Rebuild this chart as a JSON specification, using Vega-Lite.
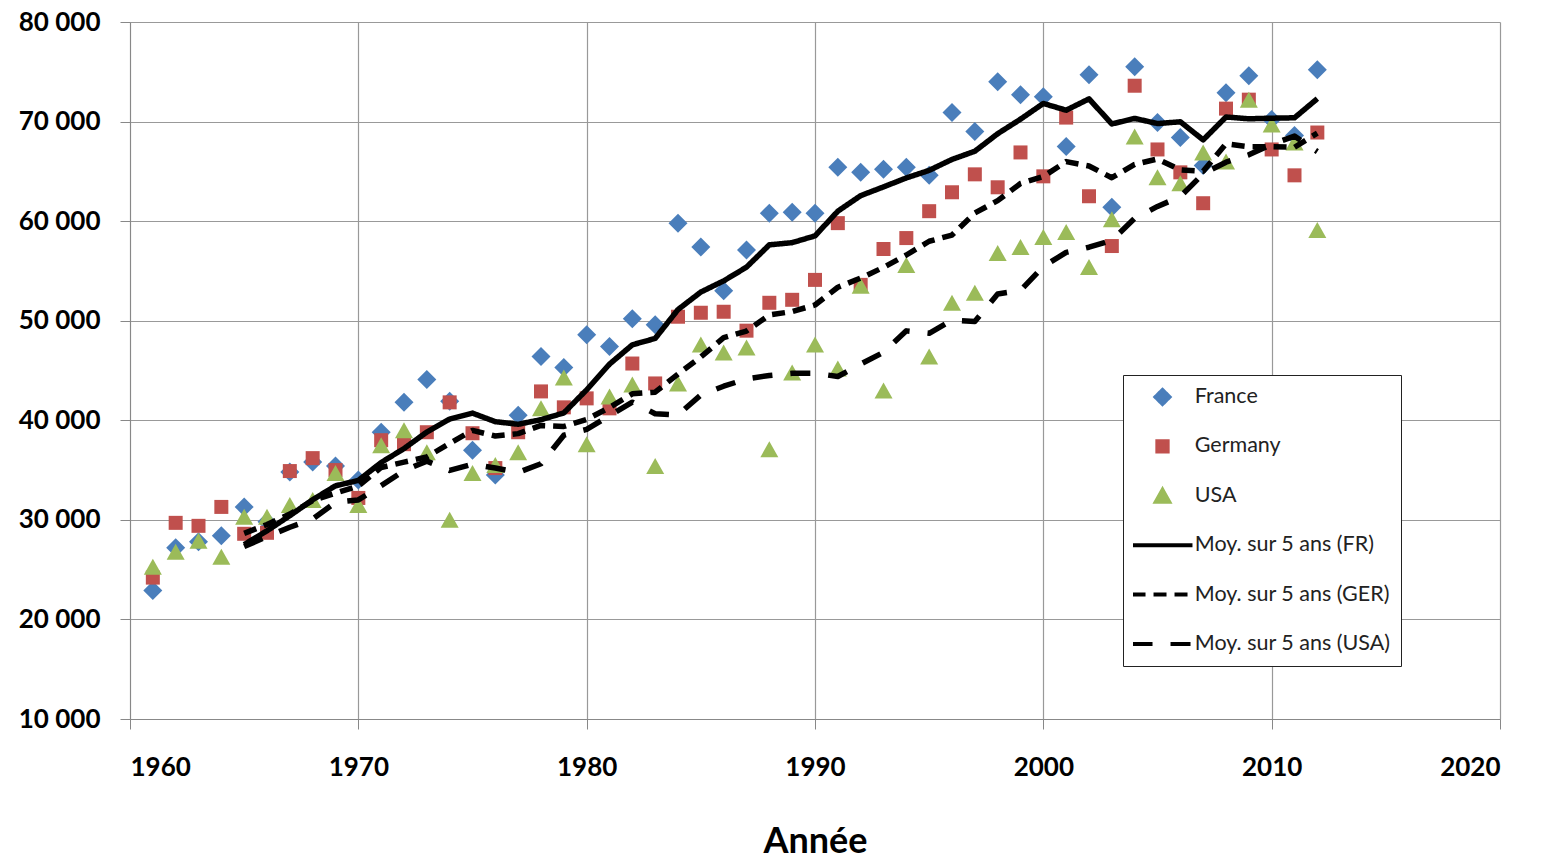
{
  "$schema": "https://vega.github.io/schema/vega-lite/v6.json",
  "width": 1370,
  "height": 697,
  "autosize": "none",
  "padding": {"left": 130, "top": 22, "right": 44, "bottom": 142},
  "background": "white",
  "config": {"view": {"stroke": null}, "font": "Lato"},
  "datasets": {
    "points": [
      {"year":1961,"series":"France","value":22900},{"year":1962,"series":"France","value":27200},{"year":1963,"series":"France","value":27800},{"year":1964,"series":"France","value":28400},{"year":1965,"series":"France","value":31300},{"year":1966,"series":"France","value":29800},{"year":1967,"series":"France","value":34800},{"year":1968,"series":"France","value":35800},{"year":1969,"series":"France","value":35400},{"year":1970,"series":"France","value":34000},
      {"year":1971,"series":"France","value":38800},{"year":1972,"series":"France","value":41800},{"year":1973,"series":"France","value":44100},{"year":1974,"series":"France","value":41900},{"year":1975,"series":"France","value":37000},{"year":1976,"series":"France","value":34500},{"year":1977,"series":"France","value":40500},{"year":1978,"series":"France","value":46400},{"year":1979,"series":"France","value":45300},{"year":1980,"series":"France","value":48600},
      {"year":1981,"series":"France","value":47400},{"year":1982,"series":"France","value":50200},{"year":1983,"series":"France","value":49600},{"year":1984,"series":"France","value":59800},{"year":1985,"series":"France","value":57400},{"year":1986,"series":"France","value":53000},{"year":1987,"series":"France","value":57100},{"year":1988,"series":"France","value":60800},{"year":1989,"series":"France","value":60900},{"year":1990,"series":"France","value":60800},
      {"year":1991,"series":"France","value":65400},{"year":1992,"series":"France","value":64900},{"year":1993,"series":"France","value":65200},{"year":1994,"series":"France","value":65400},{"year":1995,"series":"France","value":64600},{"year":1996,"series":"France","value":70900},{"year":1997,"series":"France","value":69000},{"year":1998,"series":"France","value":74000},{"year":1999,"series":"France","value":72700},{"year":2000,"series":"France","value":72500},
      {"year":2001,"series":"France","value":67500},{"year":2002,"series":"France","value":74700},{"year":2003,"series":"France","value":61400},{"year":2004,"series":"France","value":75500},{"year":2005,"series":"France","value":69900},{"year":2006,"series":"France","value":68400},{"year":2007,"series":"France","value":65600},{"year":2008,"series":"France","value":72900},{"year":2009,"series":"France","value":74600},{"year":2010,"series":"France","value":70200},{"year":2011,"series":"France","value":68600},{"year":2012,"series":"France","value":75200},

      {"year":1961,"series":"Germany","value":24200},{"year":1962,"series":"Germany","value":29700},{"year":1963,"series":"Germany","value":29400},{"year":1964,"series":"Germany","value":31300},{"year":1965,"series":"Germany","value":28600},{"year":1966,"series":"Germany","value":28700},{"year":1967,"series":"Germany","value":34900},{"year":1968,"series":"Germany","value":36200},{"year":1969,"series":"Germany","value":35000},{"year":1970,"series":"Germany","value":32200},
      {"year":1971,"series":"Germany","value":38000},{"year":1972,"series":"Germany","value":37600},{"year":1973,"series":"Germany","value":38800},{"year":1974,"series":"Germany","value":41800},{"year":1975,"series":"Germany","value":38700},{"year":1976,"series":"Germany","value":35200},{"year":1977,"series":"Germany","value":38800},{"year":1978,"series":"Germany","value":42900},{"year":1979,"series":"Germany","value":41300},{"year":1980,"series":"Germany","value":42200},
      {"year":1981,"series":"Germany","value":41200},{"year":1982,"series":"Germany","value":45700},{"year":1983,"series":"Germany","value":43700},{"year":1984,"series":"Germany","value":50400},{"year":1985,"series":"Germany","value":50800},{"year":1986,"series":"Germany","value":50900},{"year":1987,"series":"Germany","value":49000},{"year":1988,"series":"Germany","value":51800},{"year":1989,"series":"Germany","value":52100},{"year":1990,"series":"Germany","value":54100},
      {"year":1991,"series":"Germany","value":59800},{"year":1992,"series":"Germany","value":53600},{"year":1993,"series":"Germany","value":57200},{"year":1994,"series":"Germany","value":58300},{"year":1995,"series":"Germany","value":61000},{"year":1996,"series":"Germany","value":62900},{"year":1997,"series":"Germany","value":64700},{"year":1998,"series":"Germany","value":63400},{"year":1999,"series":"Germany","value":66900},{"year":2000,"series":"Germany","value":64500},
      {"year":2001,"series":"Germany","value":70400},{"year":2002,"series":"Germany","value":62500},{"year":2003,"series":"Germany","value":57500},{"year":2004,"series":"Germany","value":73600},{"year":2005,"series":"Germany","value":67200},{"year":2006,"series":"Germany","value":64900},{"year":2007,"series":"Germany","value":61800},{"year":2008,"series":"Germany","value":71300},{"year":2009,"series":"Germany","value":72200},{"year":2010,"series":"Germany","value":67200},{"year":2011,"series":"Germany","value":64600},{"year":2012,"series":"Germany","value":68900},

      {"year":1961,"series":"USA","value":25300},{"year":1962,"series":"USA","value":26800},{"year":1963,"series":"USA","value":27900},{"year":1964,"series":"USA","value":26300},{"year":1965,"series":"USA","value":30300},{"year":1966,"series":"USA","value":30300},{"year":1967,"series":"USA","value":31500},{"year":1968,"series":"USA","value":32000},{"year":1969,"series":"USA","value":34700},{"year":1970,"series":"USA","value":31500},
      {"year":1971,"series":"USA","value":37500},{"year":1972,"series":"USA","value":39000},{"year":1973,"series":"USA","value":36800},{"year":1974,"series":"USA","value":30000},{"year":1975,"series":"USA","value":34700},{"year":1976,"series":"USA","value":35500},{"year":1977,"series":"USA","value":36800},{"year":1978,"series":"USA","value":41200},{"year":1979,"series":"USA","value":44300},{"year":1980,"series":"USA","value":37600},
      {"year":1981,"series":"USA","value":42400},{"year":1982,"series":"USA","value":43600},{"year":1983,"series":"USA","value":35400},{"year":1984,"series":"USA","value":43700},{"year":1985,"series":"USA","value":47600},{"year":1986,"series":"USA","value":46800},{"year":1987,"series":"USA","value":47300},{"year":1988,"series":"USA","value":37100},{"year":1989,"series":"USA","value":44800},{"year":1990,"series":"USA","value":47600},
      {"year":1991,"series":"USA","value":45200},{"year":1992,"series":"USA","value":53500},{"year":1993,"series":"USA","value":43000},{"year":1994,"series":"USA","value":55600},{"year":1995,"series":"USA","value":46400},{"year":1996,"series":"USA","value":51800},{"year":1997,"series":"USA","value":52800},{"year":1998,"series":"USA","value":56800},{"year":1999,"series":"USA","value":57400},{"year":2000,"series":"USA","value":58400},
      {"year":2001,"series":"USA","value":58900},{"year":2002,"series":"USA","value":55400},{"year":2003,"series":"USA","value":60200},{"year":2004,"series":"USA","value":68500},{"year":2005,"series":"USA","value":64400},{"year":2006,"series":"USA","value":63800},{"year":2007,"series":"USA","value":66900},{"year":2008,"series":"USA","value":66000},{"year":2009,"series":"USA","value":72200},{"year":2010,"series":"USA","value":69700},{"year":2011,"series":"USA","value":67900},{"year":2012,"series":"USA","value":59100}
    ],
    "avg": [
      {"year":1965,"series":"Moy. sur 5 ans (FR)","value":27520},{"year":1966,"series":"Moy. sur 5 ans (FR)","value":28900},{"year":1967,"series":"Moy. sur 5 ans (FR)","value":30420},{"year":1968,"series":"Moy. sur 5 ans (FR)","value":32020},{"year":1969,"series":"Moy. sur 5 ans (FR)","value":33420},{"year":1970,"series":"Moy. sur 5 ans (FR)","value":33960},{"year":1971,"series":"Moy. sur 5 ans (FR)","value":35760},{"year":1972,"series":"Moy. sur 5 ans (FR)","value":37160},{"year":1973,"series":"Moy. sur 5 ans (FR)","value":38820},{"year":1974,"series":"Moy. sur 5 ans (FR)","value":40120},
      {"year":1975,"series":"Moy. sur 5 ans (FR)","value":40720},{"year":1976,"series":"Moy. sur 5 ans (FR)","value":39860},{"year":1977,"series":"Moy. sur 5 ans (FR)","value":39600},{"year":1978,"series":"Moy. sur 5 ans (FR)","value":40060},{"year":1979,"series":"Moy. sur 5 ans (FR)","value":40740},{"year":1980,"series":"Moy. sur 5 ans (FR)","value":43060},{"year":1981,"series":"Moy. sur 5 ans (FR)","value":45640},{"year":1982,"series":"Moy. sur 5 ans (FR)","value":47580},{"year":1983,"series":"Moy. sur 5 ans (FR)","value":48220},{"year":1984,"series":"Moy. sur 5 ans (FR)","value":51120},
      {"year":1985,"series":"Moy. sur 5 ans (FR)","value":52880},{"year":1986,"series":"Moy. sur 5 ans (FR)","value":54000},{"year":1987,"series":"Moy. sur 5 ans (FR)","value":55380},{"year":1988,"series":"Moy. sur 5 ans (FR)","value":57620},{"year":1989,"series":"Moy. sur 5 ans (FR)","value":57840},{"year":1990,"series":"Moy. sur 5 ans (FR)","value":58520},{"year":1991,"series":"Moy. sur 5 ans (FR)","value":61000},{"year":1992,"series":"Moy. sur 5 ans (FR)","value":62560},{"year":1993,"series":"Moy. sur 5 ans (FR)","value":63440},{"year":1994,"series":"Moy. sur 5 ans (FR)","value":64340},
      {"year":1995,"series":"Moy. sur 5 ans (FR)","value":65100},{"year":1996,"series":"Moy. sur 5 ans (FR)","value":66200},{"year":1997,"series":"Moy. sur 5 ans (FR)","value":67020},{"year":1998,"series":"Moy. sur 5 ans (FR)","value":68780},{"year":1999,"series":"Moy. sur 5 ans (FR)","value":70240},{"year":2000,"series":"Moy. sur 5 ans (FR)","value":71820},{"year":2001,"series":"Moy. sur 5 ans (FR)","value":71140},{"year":2002,"series":"Moy. sur 5 ans (FR)","value":72280},{"year":2003,"series":"Moy. sur 5 ans (FR)","value":69760},{"year":2004,"series":"Moy. sur 5 ans (FR)","value":70320},
      {"year":2005,"series":"Moy. sur 5 ans (FR)","value":69800},{"year":2006,"series":"Moy. sur 5 ans (FR)","value":69980},{"year":2007,"series":"Moy. sur 5 ans (FR)","value":68160},{"year":2008,"series":"Moy. sur 5 ans (FR)","value":70460},{"year":2009,"series":"Moy. sur 5 ans (FR)","value":70280},{"year":2010,"series":"Moy. sur 5 ans (FR)","value":70340},{"year":2011,"series":"Moy. sur 5 ans (FR)","value":70380},{"year":2012,"series":"Moy. sur 5 ans (FR)","value":72300},

      {"year":1965,"series":"Moy. sur 5 ans (GER)","value":28640},{"year":1966,"series":"Moy. sur 5 ans (GER)","value":29540},{"year":1967,"series":"Moy. sur 5 ans (GER)","value":30580},{"year":1968,"series":"Moy. sur 5 ans (GER)","value":31940},{"year":1969,"series":"Moy. sur 5 ans (GER)","value":32680},{"year":1970,"series":"Moy. sur 5 ans (GER)","value":33400},{"year":1971,"series":"Moy. sur 5 ans (GER)","value":35260},{"year":1972,"series":"Moy. sur 5 ans (GER)","value":35800},{"year":1973,"series":"Moy. sur 5 ans (GER)","value":36320},{"year":1974,"series":"Moy. sur 5 ans (GER)","value":37680},
      {"year":1975,"series":"Moy. sur 5 ans (GER)","value":38980},{"year":1976,"series":"Moy. sur 5 ans (GER)","value":38420},{"year":1977,"series":"Moy. sur 5 ans (GER)","value":38660},{"year":1978,"series":"Moy. sur 5 ans (GER)","value":39480},{"year":1979,"series":"Moy. sur 5 ans (GER)","value":39380},{"year":1980,"series":"Moy. sur 5 ans (GER)","value":40080},{"year":1981,"series":"Moy. sur 5 ans (GER)","value":41280},{"year":1982,"series":"Moy. sur 5 ans (GER)","value":42660},{"year":1983,"series":"Moy. sur 5 ans (GER)","value":42820},{"year":1984,"series":"Moy. sur 5 ans (GER)","value":44640},
      {"year":1985,"series":"Moy. sur 5 ans (GER)","value":46360},{"year":1986,"series":"Moy. sur 5 ans (GER)","value":48300},{"year":1987,"series":"Moy. sur 5 ans (GER)","value":48960},{"year":1988,"series":"Moy. sur 5 ans (GER)","value":50580},{"year":1989,"series":"Moy. sur 5 ans (GER)","value":50920},{"year":1990,"series":"Moy. sur 5 ans (GER)","value":51580},{"year":1991,"series":"Moy. sur 5 ans (GER)","value":53360},{"year":1992,"series":"Moy. sur 5 ans (GER)","value":54280},{"year":1993,"series":"Moy. sur 5 ans (GER)","value":55360},{"year":1994,"series":"Moy. sur 5 ans (GER)","value":56600},
      {"year":1995,"series":"Moy. sur 5 ans (GER)","value":57980},{"year":1996,"series":"Moy. sur 5 ans (GER)","value":58600},{"year":1997,"series":"Moy. sur 5 ans (GER)","value":60820},{"year":1998,"series":"Moy. sur 5 ans (GER)","value":62060},{"year":1999,"series":"Moy. sur 5 ans (GER)","value":63780},{"year":2000,"series":"Moy. sur 5 ans (GER)","value":64480},{"year":2001,"series":"Moy. sur 5 ans (GER)","value":65980},{"year":2002,"series":"Moy. sur 5 ans (GER)","value":65540},{"year":2003,"series":"Moy. sur 5 ans (GER)","value":64360},{"year":2004,"series":"Moy. sur 5 ans (GER)","value":65700},
      {"year":2005,"series":"Moy. sur 5 ans (GER)","value":66240},{"year":2006,"series":"Moy. sur 5 ans (GER)","value":65140},{"year":2007,"series":"Moy. sur 5 ans (GER)","value":65000},{"year":2008,"series":"Moy. sur 5 ans (GER)","value":67760},{"year":2009,"series":"Moy. sur 5 ans (GER)","value":67480},{"year":2010,"series":"Moy. sur 5 ans (GER)","value":67480},{"year":2011,"series":"Moy. sur 5 ans (GER)","value":67420},{"year":2012,"series":"Moy. sur 5 ans (GER)","value":68840},

      {"year":1965,"series":"Moy. sur 5 ans (USA)","value":27320},{"year":1966,"series":"Moy. sur 5 ans (USA)","value":28320},{"year":1967,"series":"Moy. sur 5 ans (USA)","value":29260},{"year":1968,"series":"Moy. sur 5 ans (USA)","value":30080},{"year":1969,"series":"Moy. sur 5 ans (USA)","value":31760},{"year":1970,"series":"Moy. sur 5 ans (USA)","value":32000},{"year":1971,"series":"Moy. sur 5 ans (USA)","value":33440},{"year":1972,"series":"Moy. sur 5 ans (USA)","value":34940},{"year":1973,"series":"Moy. sur 5 ans (USA)","value":35900},{"year":1974,"series":"Moy. sur 5 ans (USA)","value":34960},
      {"year":1975,"series":"Moy. sur 5 ans (USA)","value":35600},{"year":1976,"series":"Moy. sur 5 ans (USA)","value":35200},{"year":1977,"series":"Moy. sur 5 ans (USA)","value":34760},{"year":1978,"series":"Moy. sur 5 ans (USA)","value":35640},{"year":1979,"series":"Moy. sur 5 ans (USA)","value":38500},{"year":1980,"series":"Moy. sur 5 ans (USA)","value":39080},{"year":1981,"series":"Moy. sur 5 ans (USA)","value":40460},{"year":1982,"series":"Moy. sur 5 ans (USA)","value":41820},{"year":1983,"series":"Moy. sur 5 ans (USA)","value":40660},{"year":1984,"series":"Moy. sur 5 ans (USA)","value":40540},
      {"year":1985,"series":"Moy. sur 5 ans (USA)","value":42540},{"year":1986,"series":"Moy. sur 5 ans (USA)","value":43420},{"year":1987,"series":"Moy. sur 5 ans (USA)","value":44160},{"year":1988,"series":"Moy. sur 5 ans (USA)","value":44500},{"year":1989,"series":"Moy. sur 5 ans (USA)","value":44720},{"year":1990,"series":"Moy. sur 5 ans (USA)","value":44720},{"year":1991,"series":"Moy. sur 5 ans (USA)","value":44400},{"year":1992,"series":"Moy. sur 5 ans (USA)","value":45640},{"year":1993,"series":"Moy. sur 5 ans (USA)","value":46820},{"year":1994,"series":"Moy. sur 5 ans (USA)","value":48980},
      {"year":1995,"series":"Moy. sur 5 ans (USA)","value":48740},{"year":1996,"series":"Moy. sur 5 ans (USA)","value":50060},{"year":1997,"series":"Moy. sur 5 ans (USA)","value":49920},{"year":1998,"series":"Moy. sur 5 ans (USA)","value":52680},{"year":1999,"series":"Moy. sur 5 ans (USA)","value":53040},{"year":2000,"series":"Moy. sur 5 ans (USA)","value":55440},{"year":2001,"series":"Moy. sur 5 ans (USA)","value":56860},{"year":2002,"series":"Moy. sur 5 ans (USA)","value":57380},{"year":2003,"series":"Moy. sur 5 ans (USA)","value":58060},{"year":2004,"series":"Moy. sur 5 ans (USA)","value":60280},
      {"year":2005,"series":"Moy. sur 5 ans (USA)","value":61480},{"year":2006,"series":"Moy. sur 5 ans (USA)","value":62460},{"year":2007,"series":"Moy. sur 5 ans (USA)","value":64760},{"year":2008,"series":"Moy. sur 5 ans (USA)","value":65920},{"year":2009,"series":"Moy. sur 5 ans (USA)","value":66660},{"year":2010,"series":"Moy. sur 5 ans (USA)","value":67720},{"year":2011,"series":"Moy. sur 5 ans (USA)","value":68540},{"year":2012,"series":"Moy. sur 5 ans (USA)","value":66980}
    ]
  },
  "layer": [
    {
      "data": {"name": "points"},
      "mark": {"type": "point", "filled": true, "opacity": 1, "strokeWidth": 0, "size": 400},
      "encoding": {
        "x": {"field": "year", "type": "quantitative",
          "scale": {"domain": [1960, 2020], "nice": false, "zero": false},
          "axis": {"values": [1960,1970,1980,1990,2000,2010,2020], "format": "d", "title": "Année",
            "titleFontSize": 36, "titleFontWeight": "bold", "titleColor": "black", "titlePadding": 44,
            "labelFontSize": 26, "labelFontWeight": "bold", "labelColor": "black", "labelPadding": 25,
            "tickSize": 10, "tickColor": "#888", "domainColor": "#888", "gridColor": "#999", "gridWidth": 1.2, "grid": true}},
        "y": {"field": "value", "type": "quantitative",
          "scale": {"domain": [10000, 80000], "nice": false, "zero": false},
          "axis": {"values": [10000,20000,30000,40000,50000,60000,70000,80000], "title": null,
            "labelExpr": "replace(format(datum.value, ','), ',', ' ')",
            "labelFontSize": 26, "labelFontWeight": "bold", "labelColor": "black", "labelPadding": 20,
            "tickSize": 10, "tickColor": "#888", "domainColor": "#888", "gridColor": "#999", "gridWidth": 1.2, "grid": true}},
        "color": {"field": "series", "type": "nominal",
          "scale": {"domain": ["France","Germany","USA","Moy. sur 5 ans (FR)","Moy. sur 5 ans (GER)","Moy. sur 5 ans (USA)"],
                    "range": ["#4A7EBB","#C0504D","#9BBB59","black","black","black"]},
          "legend": {"title": null, "orient": "none", "legendX": 993, "legendY": 353,
            "strokeColor": "#222", "fillColor": "white", "padding": 10,
            "symbolSize": 217, "symbolStrokeWidth": 4, "symbolOffset": 18.75,
            "clipHeight": 24, "rowPadding": 25.4, "labelOffset": 21.5,
            "labelFontSize": 21.5, "labelFont": "Lato", "labelColor": "#222", "labelLimit": 400}},
        "shape": {"field": "series", "type": "nominal",
          "scale": {"domain": ["France","Germany","USA","Moy. sur 5 ans (FR)","Moy. sur 5 ans (GER)","Moy. sur 5 ans (USA)"],
                    "range": ["M0,-0.95L0.95,0L0,0.95L-0.95,0Z","M-0.7,-0.7H0.7V0.7H-0.7Z","M0,-0.8L0.9,0.8L-0.9,0.8Z","M-4.07,0H4.07","M-4.07,0H4.07","M-4.07,0H4.07"]}}
      }
    },
    {
      "data": {"name": "avg"},
      "mark": {"type": "line", "strokeWidth": 5.5, "strokeCap": "butt", "strokeJoin": "round"},
      "encoding": {
        "x": {"field": "year", "type": "quantitative"},
        "y": {"field": "value", "type": "quantitative"},
        "color": {"field": "series", "type": "nominal"},
        "strokeDash": {"field": "series", "type": "nominal",
          "scale": {"domain": ["France","Germany","USA","Moy. sur 5 ans (FR)","Moy. sur 5 ans (GER)","Moy. sur 5 ans (USA)"],
                    "range": [[1,0],[1,0],[1,0],[1,0],[13,8],[20,18]]}}
      }
    }
  ]
}
